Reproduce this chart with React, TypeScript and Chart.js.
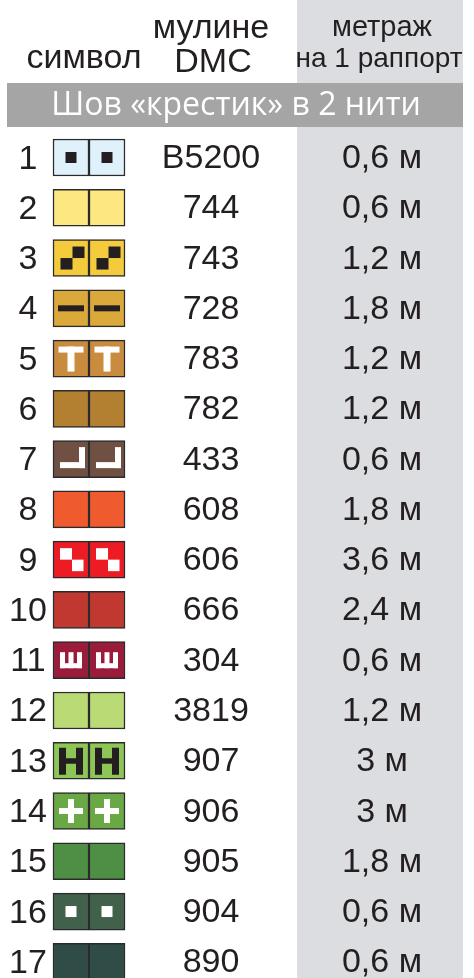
import React, { useEffect, useRef } from "react";
import { Chart, registerables } from "chart.js";

Chart.register(...registerables);

// ---- data ----
const rowNumbers = [1, 2, 3, 4, 5, 6, 7, 8, 9, 10, 11, 12, 13, 14, 15, 16, 17];
const dmcCodes = ["B5200", "744", "743", "728", "783", "782", "433", "608", "606", "666", "304", "3819", "907", "906", "905", "904", "890"];
const lengthsM = [0.6, 0.6, 1.2, 1.8, 1.2, 1.2, 0.6, 1.8, 3.6, 2.4, 0.6, 1.2, 3, 3, 1.8, 0.6, 0.6];
const swatchColors = ["#dff1fa", "#fde780", "#f3cb3d", "#dba93a", "#c98b3d", "#b37f31", "#6f5042", "#f05a2f", "#ed1c24", "#c0382f", "#9b1b3b", "#bada75", "#8dc657", "#6aa846", "#4f8f45", "#41614b", "#2f4c46"];
const symbolKinds = ["dot", "none", "stairs", "dash", "T", "none", "corner", "none", "checker", "none", "sha", "none", "H", "plus", "none", "dot", "none"];
const symbolColors = ["#231f20", "", "#231f20", "#231f20", "#ffffff", "", "#ffffff", "", "#ffffff", "", "#ffffff", "", "#231f20", "#ffffff", "", "#ffffff", ""];
const headerSymbol = "символ";
const headerThread = ["мулине", "DMC"];
const headerLength = ["метраж", "на 1 раппорт"];
const bandTitle = "Шов «крестик» в 2 нити";

// ---- layout ----
const W = 474;
const H = 978;
const ROW_UNIT = 50.27;
const FIRST_ROW_Y = 157.5;
const Y_MIN = 1 - FIRST_ROW_Y / ROW_UNIT;
const Y_MAX = Y_MIN + H / ROW_UNIT;
const CELL_L = [53, 89];
const CELL_R = [89, 125];
const TEXT = "#231f20";

function drawSymbol(ctx: CanvasRenderingContext2D, kind: string, cx: number, cy: number) {
  const r = (x: number, y: number, w: number, h: number) => ctx.fillRect(cx + x, cy + y, w, h);
  switch (kind) {
    case "dot":
      r(-5.5, -5.5, 11, 11);
      break;
    case "stairs":
      r(1.5, -11.5, 12, 11.5);
      r(-10.5, 0, 12, 11.5);
      break;
    case "dash":
      r(-13, -3, 26, 6);
      break;
    case "T":
      r(-12.5, -12, 25, 6);
      r(-3.5, -12, 7, 25);
      break;
    case "corner":
      r(8, -12, 6, 21);
      r(-11, 3, 25, 6);
      break;
    case "checker":
      r(-11, -11.5, 12, 11.5);
      r(1, 0, 11.5, 11.5);
      break;
    case "sha":
      r(-11, -8, 5, 16);
      r(-2.5, -8, 5, 16);
      r(6, -8, 5, 16);
      r(-11, 3, 22, 5);
      break;
    case "H":
      r(-12, -13, 7, 27);
      r(5, -13, 7, 27);
      r(-12, -2.5, 24, 5.5);
      break;
    case "plus":
      r(-12, -3, 24, 6);
      r(-3, -12, 6, 24);
      break;
  }
}

const tablePlugin = {
  id: "tableDecor",
  beforeDatasetsDraw(chart: any) {
    const ctx: CanvasRenderingContext2D = chart.ctx;
    ctx.save();
    ctx.fillStyle = "#ffffff";
    ctx.fillRect(0, 0, W, H);
    // gray length column
    ctx.fillStyle = "#dcdde0";
    ctx.fillRect(297, 0, 166, H);
    // band
    ctx.fillStyle = "#a5a5a6";
    ctx.fillRect(7, 83, 456, 44);
    // headers
    ctx.fillStyle = TEXT;
    ctx.textAlign = "center";
    ctx.textBaseline = "alphabetic";
    ctx.font = "34px 'Liberation Sans', Arial, sans-serif";
    ctx.fillText(headerSymbol, 84, 68);
    ctx.fillText(headerThread[0], 211, 38);
    ctx.fillText(headerThread[1], 213, 72);
    ctx.font = "29px 'Liberation Sans', Arial, sans-serif";
    ctx.fillText(headerLength[0], 382, 36);
    ctx.font = "28px 'Liberation Sans', Arial, sans-serif";
    ctx.fillText(headerLength[1], 379, 67);
    ctx.fillStyle = "#ffffff";
    ctx.font = "32px 'Open Sans', sans-serif";
    ctx.fillText(bandTitle, 236, 115);
    ctx.restore();
  },
  afterDatasetsDraw(chart: any) {
    const ctx: CanvasRenderingContext2D = chart.ctx;
    const yScale = chart.scales.y;
    ctx.save();
    [0, 1].forEach((di) => {
      const meta = chart.getDatasetMeta(di);
      meta.data.forEach((bar: any, i: number) => {
        const kind = symbolKinds[i];
        if (kind === "none") return;
        const left = Math.min(bar.x, bar.base);
        const right = Math.max(bar.x, bar.base);
        ctx.fillStyle = symbolColors[i];
        drawSymbol(ctx, kind, (left + right) / 2, bar.y);
      });
    });
    ctx.fillStyle = TEXT;
    ctx.textAlign = "center";
    ctx.textBaseline = "alphabetic";
    rowNumbers.forEach((n, i) => {
      const y = yScale.getPixelForValue(i + 1);
      ctx.font = "34px 'Liberation Sans', Arial, sans-serif";
      ctx.fillText(String(n), 28, y + 11);
      ctx.fillText(dmcCodes[i], 211, y + 10.5);
      ctx.fillText(String(lengthsM[i]).replace(".", ",") + " м", 382, y + 10.5);
    });
    ctx.restore();
  },
};

export default function App() {
  const ref = useRef<HTMLCanvasElement | null>(null);
  useEffect(() => {
    document.body.style.margin = "0";
    const canvas = ref.current;
    if (!canvas) return;
    const mk = (range: number[]) =>
      rowNumbers.map((_, i) => ({ y: i + 1, x: [range[0], range[1]] }));
    const chart = new Chart(canvas, {
      type: "bar",
      data: {
        datasets: [
          {
            data: mk(CELL_L) as any,
            backgroundColor: swatchColors,
            borderColor: "#2b2b2b",
            borderWidth: 1.5,
            borderSkipped: false,
            barThickness: 37,
            grouped: false,
          } as any,
          {
            data: mk(CELL_R) as any,
            backgroundColor: swatchColors,
            borderColor: "#2b2b2b",
            borderWidth: 1.5,
            borderSkipped: false,
            barThickness: 37,
            grouped: false,
          } as any,
        ],
      },
      options: {
        indexAxis: "y",
        responsive: false,
        maintainAspectRatio: false,
        animation: false,
        layout: { padding: 0 },
        scales: {
          x: { type: "linear", min: 0, max: W, display: false, offset: false },
          y: { type: "linear", min: Y_MIN, max: Y_MAX, reverse: true, display: false, offset: false },
        },
        plugins: { legend: { display: false }, tooltip: { enabled: false } },
      },
      plugins: [tablePlugin],
    } as any);
    return () => chart.destroy();
  }, []);
  return <canvas ref={ref} width={W} height={H} style={{ display: "block" }} />;
}
